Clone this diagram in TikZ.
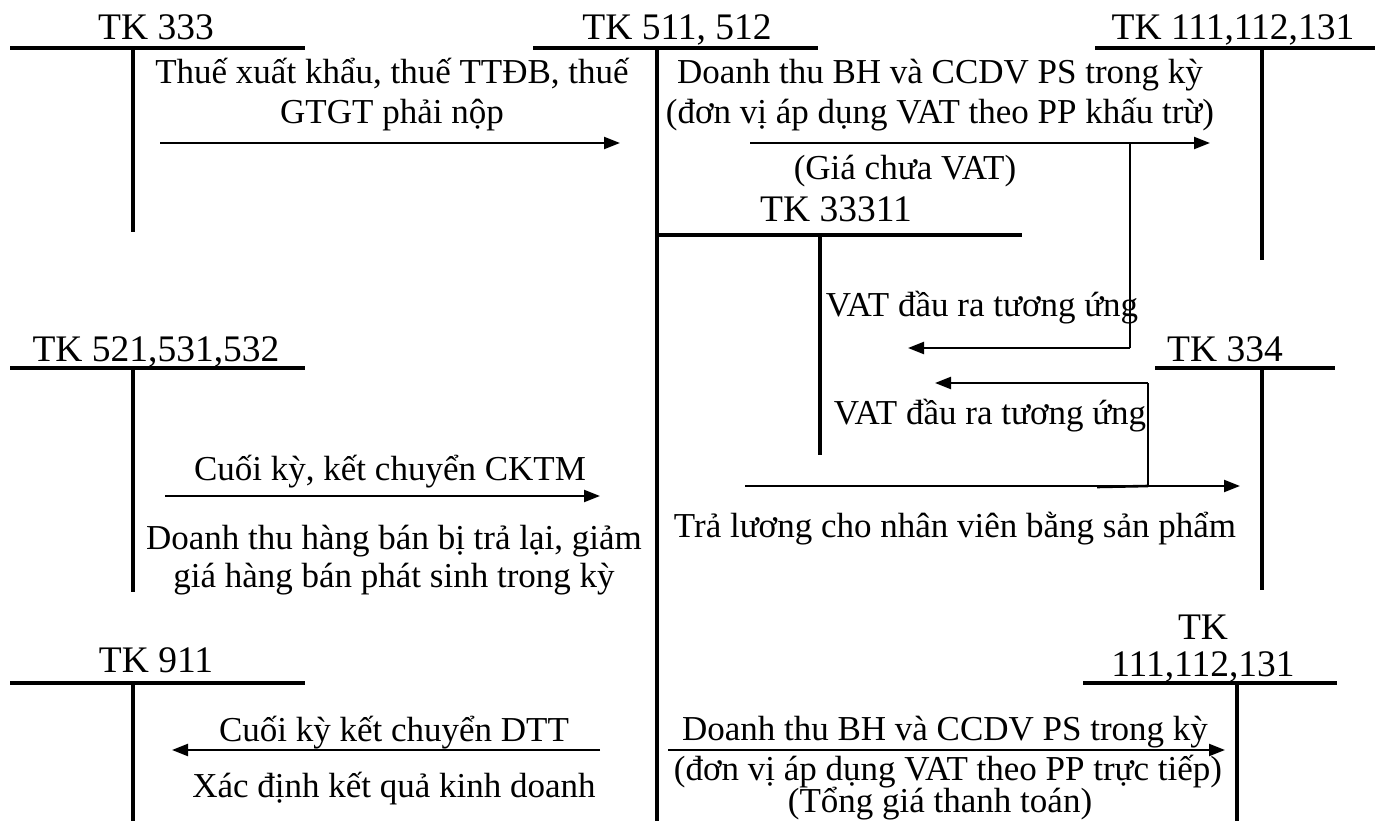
\documentclass[tikz,border=0pt]{standalone}
\usepackage{fontspec}
\setmainfont{Liberation Serif}
\usetikzlibrary{arrows.meta}
\tikzset{
  tline/.style={line width=4pt},
  flow/.style={line width=2.2pt,-{Triangle[length=16pt,width=12pt]}},
  link/.style={line width=1.6pt},
  txt/.style={inner sep=0pt,anchor=base,font=\fontsize{35}{40}\selectfont},
  acct/.style={inner sep=0pt,anchor=base,font=\fontsize{37.5}{42}\selectfont},
}
\begin{document}
\begin{tikzpicture}[x=1pt,y=-1pt]
\useasboundingbox (0,0) rectangle (1381,821);

% ---- T-account skeletons ----
% TK 333
\coordinate (a333l) at (10,48);   \coordinate (a333r) at (305,48);
\coordinate (a333t) at (133,48);  \coordinate (a333b) at (133,232);
% TK 511, 512
\coordinate (a511l) at (533,48);  \coordinate (a511r) at (818,48);
\coordinate (a511t) at (657,48);  \coordinate (a511b) at (657,821);
% TK 111,112,131 (upper)
\coordinate (a111l) at (1095,48); \coordinate (a111r) at (1375,48);
\coordinate (a111t) at (1262,48); \coordinate (a111b) at (1262,260);
% TK 33311
\coordinate (a3311l) at (657,235); \coordinate (a3311r) at (1022,235);
\coordinate (a3311t) at (820,235); \coordinate (a3311b) at (820,455);
% TK 521,531,532
\coordinate (a521l) at (10,368);  \coordinate (a521r) at (305,368);
\coordinate (a521t) at (133,368); \coordinate (a521b) at (133,592);
% TK 334
\coordinate (a334l) at (1155,368); \coordinate (a334r) at (1335,368);
\coordinate (a334t) at (1262,368); \coordinate (a334b) at (1262,590);
% TK 911
\coordinate (a911l) at (10,683);  \coordinate (a911r) at (305,683);
\coordinate (a911t) at (133,683); \coordinate (a911b) at (133,821);
% TK 111,112,131 (lower)
\coordinate (b111l) at (1083,683); \coordinate (b111r) at (1337,683);
\coordinate (b111t) at (1237,683); \coordinate (b111b) at (1237,821);

\foreach \n in {a333,a511,a111,a3311,a521,a334,a911,b111}{
  \draw[tline] (\n l) -- (\n r);
  \draw[tline] (\n t) -- (\n b);
}

% ---- account titles ----
\node[acct] (t333)  at (156,40)  {TK 333};
\node[acct] (t511)  at (677,40)  {TK 511, 512};
\node[acct] (t111)  at (1233,40) {TK 111,112,131};
\node[acct] (t3311) at (836,222) {TK 33311};
\node[acct] (t521)  at (156,361) {TK 521,531,532};
\node[acct] (t334)  at (1225,361) {TK 334};
\node[acct] (t911)  at (156,672) {TK 911};
\node[acct] (t111a) at (1203,639) {TK};
\node[acct] (t111b) at (1203,676) {111,112,131};

% ---- entry texts ----
\node[txt] (e1a) at (392,84)  {Thuế xuất khẩu, thuế TTĐB, thuế};
\node[txt] (e1b) at (392,124) {GTGT phải nộp};
\node[txt] (e2a) at (940,84)  {Doanh thu BH và CCDV PS trong kỳ};
\node[txt] (e2b) at (940,124) {(đơn vị áp dụng VAT theo PP khấu trừ)};
\node[txt] (e2c) at (905,180) {(Giá chưa VAT)};
\node[txt] (e3)  at (982,316) {VAT đầu ra tương ứng};
\node[txt] (e4)  at (990,424) {VAT đầu ra tương ứng};
\node[txt] (e5)  at (390,480) {Cuối kỳ, kết chuyển CKTM};
\node[txt] (e6)  at (955,537) {Trả lương cho nhân viên bằng sản phẩm};
\node[txt] (e7a) at (394,549) {Doanh thu hàng bán bị trả lại, giảm};
\node[txt] (e7b) at (394,587) {giá hàng bán phát sinh trong kỳ};
\node[txt] (e8a) at (394,741) {Cuối kỳ kết chuyển DTT};
\node[txt] (e8b) at (394,797) {Xác định kết quả kinh doanh};
\node[txt] (e9a) at (945,740) {Doanh thu BH và CCDV PS trong kỳ};
\node[txt] (e9b) at (948,780) {(đơn vị áp dụng VAT theo PP trực tiếp)};
\node[txt] (e9c) at (940,812) {(Tổng giá thanh toán)};

% ---- flows ----
\coordinate (f1s) at (160,143);  \coordinate (f1e) at (620,143);
\coordinate (f2s) at (750,143);  \coordinate (f2e) at (1210,143);
\coordinate (f3s) at (1130,143); \coordinate (f3c) at (1130,348); \coordinate (f3e) at (908,348);
\coordinate (f4s) at (1148,486); \coordinate (f4c) at (1148,383); \coordinate (f4e) at (935,383);
\coordinate (f4a) at (1097,487);
\coordinate (f5s) at (745,486);  \coordinate (f5e) at (1240,486);
\coordinate (f6s) at (165,496);  \coordinate (f6e) at (600,496);
\coordinate (f7s) at (600,750);  \coordinate (f7e) at (172,750);
\coordinate (f8s) at (668,750);  \coordinate (f8e) at (1225,750);

\draw[flow] (f1s) -- (f1e);
\draw[flow] (f2s) -- (f2e);
\draw[link] (f3s) -- (f3c);
\draw[flow] (f3c) -- (f3e);
\draw[flow] (f5s) -- (f5e);
\draw[line width=2.6pt] (f4a) -- (f4s);
\draw[link] (f4s) -- (f4c);
\draw[flow] (f4c) -- (f4e);
\draw[flow] (f6s) -- (f6e);
\draw[flow] (f7s) -- (f7e);
\draw[flow] (f8s) -- (f8e);
\end{tikzpicture}
\end{document}
